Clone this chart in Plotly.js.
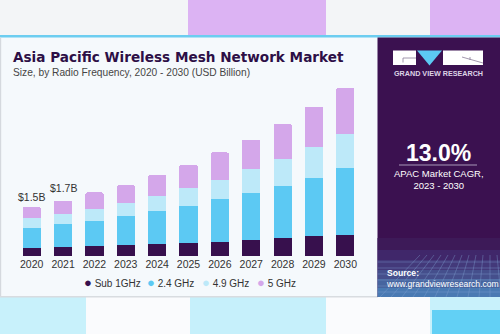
<!DOCTYPE html>
<html>
<head>
<meta charset="utf-8">
<script src="https://cdn.plot.ly/plotly-3.0.1.min.js"></script>
<style>
  html, body { margin: 0; padding: 0; background: #ffffff; }
  #chart { width: 500px; height: 334px; }
</style>
</head>
<body>
<div id="chart"></div>
<script>
// ---- data ----
const years = ['2020', '2021', '2022', '2023', '2024', '2025', '2026', '2027', '2028', '2029', '2030'];
const sub1GHz = [0.25, 0.28, 0.30, 0.33, 0.37, 0.40, 0.43, 0.49, 0.55, 0.61, 0.65];
const ghz24 = [0.61, 0.69, 0.77, 0.88, 0.99, 1.12, 1.29, 1.41, 1.58, 1.77, 2.03];
const ghz49 = [0.29, 0.31, 0.36, 0.40, 0.47, 0.56, 0.59, 0.73, 0.81, 0.93, 1.03];
const ghz5 = [0.35, 0.40, 0.50, 0.54, 0.63, 0.70, 0.84, 0.91, 1.08, 1.22, 1.41];
const seriesNames = ['Sub 1GHz', '2.4 GHz', '4.9 GHz', '5 GHz'];
const seriesColors = ['#37104d', '#5cc9f3', '#bde9f9', '#d4a7ea'];
const labelYears = ['2020', '2021'];
const labelTexts = ['$1.5B', '$1.7B'];
const labelShift = [10, 13];

// ---- geometry helpers (pixel -> paper) ----
const M = { l: 16, r: 139, t: 75, b: 78 };
const PW = 500 - M.l - M.r, PH = 334 - M.t - M.b;
const px = x => (x - M.l) / PW;
const py = y => (334 - M.b - y) / PH;

const seriesValues = [sub1GHz, ghz24, ghz49, ghz5];
const traces = seriesValues.map((vals, i) => ({
  type: 'bar', x: years, y: vals, name: seriesNames[i],
  marker: { color: seriesColors[i] }, showlegend: false
}));

function rect(x0, y0, x1, y1, color, opacity) {
  return { type: 'rect', xref: 'paper', yref: 'paper', layer: 'below',
    x0: px(x0), x1: px(x1), y0: py(y1), y1: py(y0),
    fillcolor: color, opacity: opacity === undefined ? 1 : opacity, line: { width: 0 } };
}
function line(x0, y0, x1, y1, color, w, layer) {
  return { type: 'line', xref: 'paper', yref: 'paper', layer: layer || 'below',
    x0: px(x0), x1: px(x1), y0: py(y0), y1: py(y1), line: { color: color, width: w } };
}

const shapes = [
  rect(0, 0, 500, 35, '#f3f5f7'),
  rect(188, 0, 326, 35, '#dcb3f3'),
  rect(430, 0, 500, 35, '#dcb3f3'),
  rect(0, 297, 500, 334, '#fafbfd'),
  rect(0, 297, 86, 334, '#c8f1fb'),
  rect(190, 297, 326, 334, '#c6f0fb'),
  rect(430, 297, 500, 334, '#c8f1fb'),
  rect(432, 310, 500, 334, '#62d0f5'),
  rect(0, 35, 500, 37.5, '#6ccdf0'),
  rect(0, 37.5, 1.2, 297, '#d5d9de'),
  rect(0, 296, 378, 297.5, '#d8dce0'),
  rect(377.5, 37.5, 500, 297, '#3b1150'),
  rect(377.5, 238, 500, 250, '#3d1a58'),
  rect(377.5, 250, 500, 260, '#40276a'),
  rect(377.5, 260, 500, 270, '#43397a'),
  rect(377.5, 270, 500, 279, '#454f8c'),
  rect(377.5, 279, 500, 288, '#47659f'),
  rect(377.5, 288, 500, 297, '#4a7ab3'),
  // logo
  rect(393, 50.5, 416, 65, '#ffffff'),
  rect(443, 50.5, 483, 65, '#ffffff'),
  { type: 'path', xref: 'paper', yref: 'paper', layer: 'below',
    path: 'M ' + px(417) + ',' + py(50.5) + ' L ' + px(442) + ',' + py(50.5) + ' L ' + px(429.5) + ',' + py(65.5) + ' Z',
    fillcolor: '#5cc9f3', line: { width: 0 } },
  line(403, 58, 416, 58, '#8c7f99', 0.8),
  line(403, 58, 403, 62.5, '#8c7f99', 0.8),
  line(462, 57, 483, 63, '#8c7f99', 0.8),
  line(470, 57, 470, 60, '#8c7f99', 0.8),
  line(399, 165, 477, 165, '#a898b8', 1)
];
for (let k = 0; k < 6; k++) {
  shapes.push(line(377.5, 262 + k * 6, 500, 262 + k * 6, '#7f9fd0', 0.4));
}
for (let k = 0; k < 12; k++) {
  shapes.push(line(380 + k * 11, 297, 420 + k * 7, 255, '#7f9fd0', 0.4));
}

const F = 'Liberation Sans, Arial, sans-serif';
const annotations = [
  { xref: 'paper', yref: 'paper', x: px(11), y: py(72.5), xanchor: 'left', yanchor: 'middle',
    text: 'Size, by Radio Frequency, 2020 - 2030 (USD Billion)', showarrow: false,
    font: { family: F, size: 10.2, color: '#454545' } },
  { xref: 'paper', yref: 'paper', x: px(438), y: py(73.5), xanchor: 'center', yanchor: 'middle',
    text: '<b>GRAND VIEW RESEARCH</b>', showarrow: false,
    font: { family: F, size: 7.2, color: '#ddd3e6' } },
  { xref: 'paper', yref: 'paper', x: px(438.5), y: py(153), xanchor: 'center', yanchor: 'middle',
    text: '<b>13.0%</b>', showarrow: false,
    font: { family: F, size: 23, color: '#ffffff' } },
  { xref: 'paper', yref: 'paper', x: px(438.5), y: py(179.5), xanchor: 'center', yanchor: 'middle',
    text: 'APAC Market CAGR,<br>2023 - 2030', showarrow: false,
    font: { family: F, size: 9.5, color: '#ffffff' } },
  { xref: 'paper', yref: 'paper', x: px(384.5), y: py(278.5), xanchor: 'left', yanchor: 'middle', align: 'left',
    text: '<b>Source:</b><br>www.grandviewresearch.com', showarrow: false,
    font: { family: F, size: 8.6, color: '#ffffff' } }
];
labelYears.forEach((yr, i) => {
  const idx = years.indexOf(yr);
  const total = sub1GHz[idx] + ghz24[idx] + ghz49[idx] + ghz5[idx];
  annotations.push({ x: idx, y: total, xref: 'x', yref: 'y', text: labelTexts[i], showarrow: false,
    yanchor: 'middle', yshift: labelShift[i],
    font: { family: F, size: 10.5, color: '#333333' } });
});
const legendX = [82, 144.5, 199.5, 255];
seriesNames.forEach((nm, i) => {
  annotations.push({ xref: 'paper', yref: 'paper', x: px(legendX[i]), y: py(282), xanchor: 'left', yanchor: 'middle',
    text: '<span style="color:' + seriesColors[i] + ';font-size:13px">●</span> ' + nm, showarrow: false,
    font: { family: F, size: 10, color: '#333333' } });
});

const layout = {
  width: 500, height: 334,
  margin: M,
  paper_bgcolor: '#f5f9fc', plot_bgcolor: 'rgba(0,0,0,0)',
  barmode: 'stack', bargap: 0.42, barcornerradius: 2,
  title: { text: '<b>Asia Pacific Wireless Mesh Network Market</b>', xref: 'container', yref: 'container',
    x: 13 / 500, xanchor: 'left', y: 1 - 57.5 / 334, yanchor: 'middle',
    font: { family: 'DejaVu Sans, Liberation Sans, sans-serif', size: 13.6, color: '#2d0f46' } },
  xaxis: { type: 'category', showgrid: false, showline: false, zeroline: false, ticks: '',
    tickfont: { family: F, size: 10.5, color: '#333333' } },
  yaxis: { visible: false, range: [0, 5.5], showgrid: false, zeroline: false },
  showlegend: false,
  shapes: shapes,
  annotations: annotations
};

Plotly.newPlot('chart', traces, layout, { displayModeBar: false });
</script>
</body>
</html>
